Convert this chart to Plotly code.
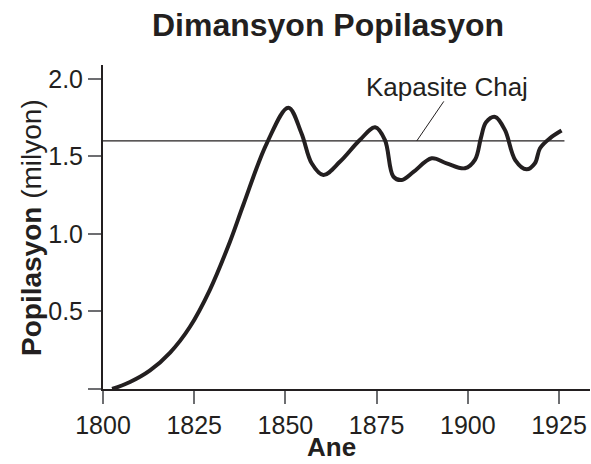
import plotly.graph_objects as go

# Population curve (year, millions)
years = [1802.5, 1807.4, 1812.9, 1818.4, 1823.8, 1829.3, 1834.8, 1838.5, 1844.9,
         1850.8, 1854.4, 1857.2, 1860.4, 1865.0, 1870.4, 1874.6, 1877.3,
         1879.6, 1881.9, 1885.1, 1890.1, 1894.2, 1899.2, 1902.0, 1903.6,
         1905.0, 1907.5, 1910.2, 1913.0, 1916.1, 1918.4, 1919.8, 1922.5, 1925.7]
population = [0.0, 0.045, 0.12, 0.235, 0.40, 0.64, 0.95, 1.19, 1.585,
              1.815, 1.65, 1.456, 1.38, 1.467, 1.606, 1.688, 1.606,
              1.37, 1.348, 1.40, 1.488, 1.456, 1.424, 1.48, 1.62,
              1.72, 1.755, 1.67, 1.477, 1.417, 1.456, 1.553, 1.617, 1.667]

# Carrying capacity line
capacity_years = [1800, 1926.5]
capacity = [1.6, 1.6]

x_ticks = [1800, 1825, 1850, 1875, 1900, 1925]
y_ticks = [0, 0.5, 1.0, 1.5, 2.0]
y_ticklabels = ["", "0.5", "1.0", "1.5", "2.0"]

FONT = "Liberation Sans, Arial, Helvetica, sans-serif"
INK = "#231f20"

fig = go.Figure()

fig.add_trace(go.Scatter(
    x=capacity_years, y=capacity, mode="lines",
    line=dict(color=INK, width=1.2), hoverinfo="skip", showlegend=False
))

fig.add_trace(go.Scatter(
    x=years, y=population, mode="lines",
    line=dict(color=INK, width=4, shape="spline", smoothing=1.0),
    showlegend=False
))

# label + pointer for the capacity line
fig.add_annotation(
    x=1886.0, y=1.6, ax=1893.7, ay=1.865, axref="x", ayref="y",
    text="", showarrow=True, arrowhead=0, arrowwidth=1, arrowcolor=INK
)
fig.add_annotation(
    x=1894.3, y=1.95, text="Kapasite Chaj", showarrow=False,
    font=dict(family=FONT, size=26, color=INK), xanchor="center", yanchor="middle"
)

# axis titles placed as annotations for exact positioning
fig.add_annotation(
    xref="paper", yref="paper", x=(31 - 103) / 487, y=(389 - 228) / 324,
    text="<b>Popilasyon</b> (milyon)", textangle=-90, showarrow=False,
    font=dict(family=FONT, size=28, color=INK), xanchor="center", yanchor="middle"
)
fig.add_annotation(
    xref="paper", yref="paper", x=(331 - 103) / 487, y=(389 - 447) / 324,
    text="<b>Ane</b>", showarrow=False,
    font=dict(family=FONT, size=26, color=INK), xanchor="center", yanchor="middle"
)

fig.update_xaxes(
    range=[1800, 1933.5], tickvals=x_ticks, ticks="outside", ticklen=13, tickwidth=2,
    tickcolor="#6d6e71", showline=True, linecolor=INK, linewidth=2, showgrid=False,
    zeroline=False, automargin=False, tickfont=dict(family=FONT, size=25, color=INK)
)
fig.update_yaxes(
    range=[0, 2.09], tickvals=y_ticks, ticktext=y_ticklabels, ticks="outside",
    ticklen=13, tickwidth=2, tickcolor="#6d6e71", showline=True, linecolor=INK,
    linewidth=2, showgrid=False, zeroline=False, automargin=False,
    tickfont=dict(family=FONT, size=25, color=INK)
)

fig.update_layout(
    width=591, height=464,
    margin=dict(l=103, r=1, t=65, b=75),
    paper_bgcolor="white", plot_bgcolor="white",
    title=dict(text="<b>Dimansyon Popilasyon</b>", x=328 / 591, xanchor="center",
               y=1 - 25 / 464, yanchor="middle",
               font=dict(family=FONT, size=32, color=INK)),
    showlegend=False
)

# drop the browser's default body margin so the figure sits at the page origin
fig.write_html("out.html", config={"displayModeBar": False},
               post_script="document.body.style.margin='0';")
